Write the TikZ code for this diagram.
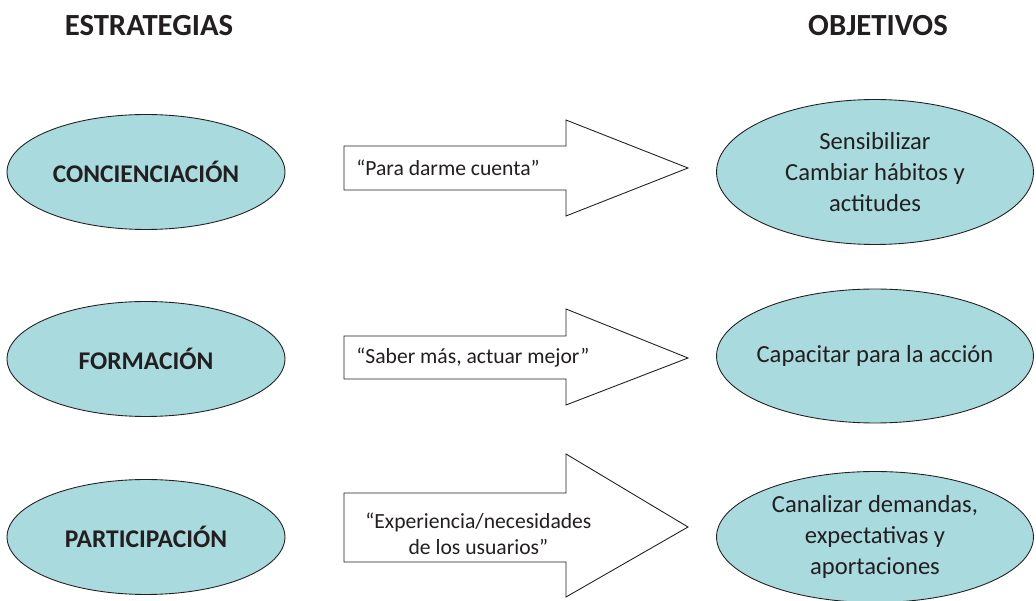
\documentclass[tikz,border=0pt]{standalone}
\usepackage{fontspec}
\setmainfont{Carlito}
\usetikzlibrary{shapes.geometric}
\definecolor{celeste}{RGB}{168,218,222}
\definecolor{tinta}{RGB}{35,31,32}
\tikzset{
  estrategia/.style={ellipse, draw=tinta, fill=celeste, line width=0.5pt,
    minimum width=5.56cm, minimum height=2.3cm, inner sep=0pt,
    text=tinta, font=\fontsize{14.5}{17}\selectfont\bfseries},
  objetivo/.style={ellipse, draw=tinta, fill=celeste, line width=0.5pt,
    minimum width=6.34cm, inner xsep=-0.6cm, inner ysep=0pt, align=center,
    text=tinta, font=\fontsize{14}{17.6}\selectfont},
  flecha/.style={draw=tinta, fill=white, line width=0.5pt},
  lema/.style={anchor=west, align=center, inner sep=0pt,
    text=tinta, font=\fontsize{12.3}{15}\selectfont},
  titulo/.style={text=tinta, font=\fontsize{17.5}{20}\selectfont\bfseries},
}

\begin{document}
\begin{tikzpicture}[x=0.02cm,y=-0.02cm]
\useasboundingbox (0,0) rectangle (1036,601);
% titulos
\node[titulo] (titest) at (149,26) {ESTRATEGIAS};
\node[titulo] (titobj) at (878,26) {OBJETIVOS};
% concienciacion
\node[estrategia] (conc) at (146,172) {CONCIENCIACIÓN};
\draw[flecha] (344,146)--(566,146)--(566,120)--(688,168)--(566,216)--(566,190)--(344,190)--cycle;
\node[lema] (lemaconc) at (356,168) {“Para darme cuenta"};
\node[objetivo, minimum height=2.9cm] (sens) at (875,172) {Sensibilizar\\Cambiar hábitos y\\actitudes};
% formacion
\node[estrategia] (form) at (146,359) {FORMACIÓN};
\draw[flecha] (344,336)--(566,336)--(566,309)--(688,358)--(566,405)--(566,379)--(344,379)--cycle;
\node[lema] (lemaform) at (356,358) {“Saber más, actuar mejor"};
\node[objetivo, minimum height=2.68cm] (capa) at (875,356) {Capacitar para la acción};
% participacion
\node[estrategia] (part) at (146,537) {PARTICIPACIÓN};
\draw[flecha] (344,493)--(566,493)--(566,454)--(688,527)--(566,597)--(566,562)--(344,562)--cycle;
\node[lema] (lemapart) at (365,534) {“Experiencia/necesidades\\de los usuarios"};
\node[objetivo, minimum height=2.62cm] (cana) at (875,537) {Canalizar demandas,\\expectativas y\\aportaciones};
\end{tikzpicture}
\end{document}
